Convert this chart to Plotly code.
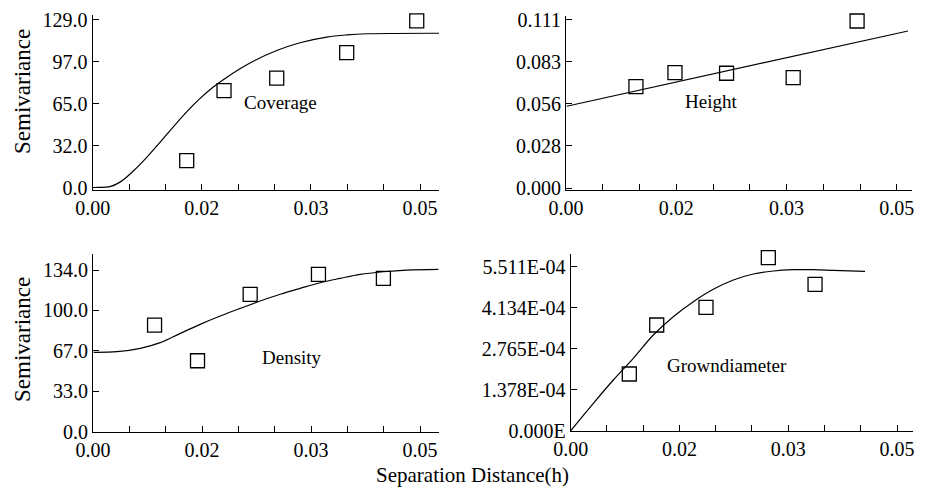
import plotly.graph_objects as go

W, H = 926, 490

# ---------------- data ----------------
x_tickvals = [0.0, 0.05 / 3, 0.1 / 3, 0.05]
x_ticktext = ["0.00", "0.02", "0.03", "0.05"]

# Coverage
cov_x = [0.01436, 0.02006, 0.02811, 0.0388, 0.0495]
cov_y = [21.0, 74.7, 84.3, 103.9, 128.3]
cov_fit_x = [0.0006, 0.00264, 0.00417, 0.0062, 0.00825, 0.01028, 0.01231, 0.01436, 0.01624,
             0.01842, 0.02006, 0.0225, 0.02453, 0.02811, 0.03167, 0.03575, 0.0388, 0.04186, 0.05306]
cov_fit_y = [0.5, 1.0, 4.5, 13.0, 23.5, 35.0, 47.0, 58.5, 68.0,
             77.5, 83.5, 91.5, 97.3, 105.5, 111.5, 115.8, 117.5, 118.4, 118.8]
cov_ytickvals = [0, 32.25, 64.5, 96.75, 129]
cov_yticktext = ["0.0", "32.0", "65.0", "97.0", "129.0"]

# Height
hgt_x = [0.01057, 0.01647, 0.02427, 0.03434, 0.0440]
hgt_y = [0.0669, 0.0762, 0.0758, 0.0729, 0.1103]
hgt_fit_x = [0.0001, 0.0517]
hgt_fit_y = [0.0540, 0.1037]
hgt_ytickvals = [0, 0.02775, 0.0555, 0.08325, 0.111]
hgt_yticktext = ["0.000", "0.028", "0.056", "0.083", "0.111"]

# Density
den_x = [0.00941, 0.01598, 0.02403, 0.03447, 0.0444]
den_y = [88.4, 58.8, 113.9, 130.4, 127.1]
den_fit_x = [0.0001, 0.00367, 0.00723, 0.01028, 0.01334, 0.01639, 0.01945, 0.0225, 0.02556,
             0.02862, 0.03167, 0.03473, 0.03779, 0.04084, 0.0444, 0.04797, 0.0528]
den_fit_y = [65.8, 66.3, 69.1, 73.8, 81.5, 89.0, 95.9, 102.2, 108.3,
             113.9, 118.8, 123.5, 127.1, 130.4, 132.6, 134.0, 134.6]
den_ytickvals = [0, 33.5, 67, 100.5, 134]
den_yticktext = ["0.0", "33.0", "67.0", "100.0", "134.0"]

# Growndiameter
grd_x = [0.00898, 0.01318, 0.02073, 0.03028, 0.03744]
grd_y = [1.905e-4, 3.552e-4, 4.147e-4, 5.813e-4, 4.920e-4]
grd_fit_x = [0.0, 0.00347, 0.00653, 0.00959, 0.01266, 0.01572, 0.01879, 0.02185, 0.02492,
             0.02798, 0.03105, 0.03411, 0.03717, 0.04024, 0.0451]
grd_fit_y = [0.0, 0.921e-4, 1.704e-4, 2.433e-4, 3.216e-4, 3.831e-4, 4.335e-4, 4.751e-4, 5.064e-4,
             5.266e-4, 5.367e-4, 5.410e-4, 5.410e-4, 5.390e-4, 5.357e-4]
grd_ytickvals = [0, 1.37775e-4, 2.7555e-4, 4.13325e-4, 5.511e-4]
grd_yticktext = ["0.000E", "1.378E-04", "2.765E-04", "4.134E-04", "5.511E-04"]

labels = ["Coverage", "Height", "Density", "Growndiameter"]

# ---------------- layout helpers ----------------
FONT = "Liberation Serif"

def px_x(p):
    return p / W

def px_y(p):
    return 1 - p / H

panels = [
    (cov_x, cov_y, cov_fit_x, cov_fit_y, cov_ytickvals, cov_yticktext,
     (92.7, 439), (15, 190), [0, 0.0529], [-1.54, 132.8], (280, 102)),
    (hgt_x, hgt_y, hgt_fit_x, hgt_fit_y, hgt_ytickvals, hgt_yticktext,
     (566, 912), (16, 190), [0, 0.0523], [-0.00132, 0.1136], (711, 101)),
    (den_x, den_y, den_fit_x, den_fit_y, den_ytickvals, den_yticktext,
     (93, 439), (254, 432), [0, 0.0529], [-0.25, 147.3], (292, 357)),
    (grd_x, grd_y, grd_fit_x, grd_fit_y, grd_ytickvals, grd_yticktext,
     (570.7, 913), (254, 431), [0, 0.05245], [-1e-6, 5.938e-4], (727, 365)),
]

fig = go.Figure()
annotations = []
layout_axes = {}

for i, (px_, py_, fx, fy, ytv, ytt, xd, yd, xr, yr, lp) in enumerate(panels):
    n = i + 1
    xa = "x" if n == 1 else f"x{n}"
    ya = "y" if n == 1 else f"y{n}"
    fig.add_trace(go.Scatter(x=fx, y=fy, mode="lines",
                             line=dict(color="black", width=1.2, shape="spline", smoothing=1.0),
                             xaxis=xa, yaxis=ya, showlegend=False, hoverinfo="skip", cliponaxis=False))
    fig.add_trace(go.Scatter(x=px_, y=py_, mode="markers",
                             marker=dict(symbol="square-open", size=14, color="black",
                                         line=dict(width=1.3, color="black")),
                             xaxis=xa, yaxis=ya, showlegend=False, cliponaxis=False))
    xkey = "xaxis" if n == 1 else f"xaxis{n}"
    ykey = "yaxis" if n == 1 else f"yaxis{n}"
    layout_axes[xkey] = dict(
        domain=[px_x(xd[0]), px_x(xd[1])], range=xr, anchor=ya,
        showline=True, linecolor="black", linewidth=1.2, showgrid=False, zeroline=False,
        tickmode="array", tickvals=x_tickvals, ticktext=x_ticktext,
        ticks="inside", ticklen=6, tickcolor="black", tickwidth=1,
        minor=dict(tickmode="linear", tick0=0, dtick=0.05 / 9, ticks="inside",
                   ticklen=6, tickcolor="black", tickwidth=1, showgrid=False),
        tickfont=dict(family=FONT, size=20, color="black"), automargin=False,
    )
    layout_axes[ykey] = dict(
        domain=[px_y(yd[1]), px_y(yd[0])], range=yr, anchor=xa,
        showline=True, linecolor="black", linewidth=1.2, showgrid=False, zeroline=False,
        tickmode="array", tickvals=ytv, ticktext=ytt,
        ticks="inside", ticklen=6, tickcolor="black", tickwidth=1,
        tickfont=dict(family=FONT, size=20, color="black"), automargin=False,
    )
    annotations.append(dict(text=labels[i], x=px_x(lp[0]), y=px_y(lp[1]), xref="paper", yref="paper",
                            showarrow=False, xanchor="center", yanchor="middle",
                            font=dict(family=FONT, size=19, color="black")))

annotations.append(dict(text="Semivariance", x=px_x(22), y=px_y(92), xref="paper", yref="paper",
                        showarrow=False, textangle=-90, xanchor="center", yanchor="middle",
                        font=dict(family=FONT, size=23, color="black")))
annotations.append(dict(text="Semivariance", x=px_x(22), y=px_y(340), xref="paper", yref="paper",
                        showarrow=False, textangle=-90, xanchor="center", yanchor="middle",
                        font=dict(family=FONT, size=23, color="black")))
annotations.append(dict(text="Separation Distance(h)", x=px_x(473), y=px_y(475), xref="paper", yref="paper",
                        showarrow=False, xanchor="center", yanchor="middle",
                        font=dict(family=FONT, size=21, color="black")))

fig.update_layout(
    width=W, height=H, margin=dict(l=0, r=0, t=0, b=0),
    paper_bgcolor="white", plot_bgcolor="white",
    annotations=annotations, showlegend=False,
    **layout_axes,
)

fig.write_html("out.html", config={"displayModeBar": False},
               post_script="document.body.style.margin='0px';document.body.style.padding='0px';")
